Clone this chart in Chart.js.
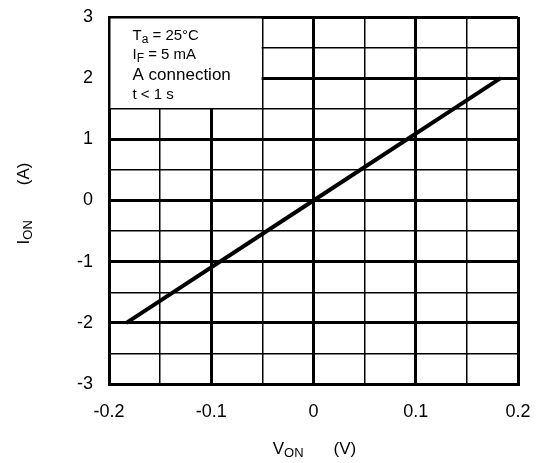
<!DOCTYPE html>
<html>
<head>
<meta charset="utf-8">
<script src="https://cdn.jsdelivr.net/npm/chart.js@4"></script>
<style>
html,body{margin:0;padding:0;background:#fff;}
#wrap{width:541px;height:463px;}
</style>
</head>
<body>
<div id="wrap"><canvas id="c" width="541" height="463"></canvas></div>
<script>
// Data
const vOn = [-0.183, 0, 0.183];          // V_ON (V)
const iOn = [-2, 0, 2];                  // I_ON (A)
const xMin = -0.2, xMax = 0.2, xStep = 0.05;
const yMin = -3, yMax = 3, yStep = 0.5;
const xTickLabels = ['-0.2', '-0.1', '0', '0.1', '0.2'];
const yTickLabels = ['-3', '-2', '-1', '0', '1', '2', '3'];
const noteBoxX = [-0.2, -0.05];
const noteBoxY = [1.5, 3];

const FONT = '"Liberation Sans", Arial, sans-serif';

function isMajor(v, unit) {
  const r = v / unit;
  return Math.abs(r - Math.round(r)) < 1e-6;
}

function drawParts(ctx, parts, x0, y0) {
  let xx = x0;
  for (const p of parts) {
    ctx.font = p.s + 'px ' + FONT;
    xx += (p.g || 0);
    ctx.fillText(p.t, xx, y0 + (p.d || 0));
    xx += ctx.measureText(p.t).width;
  }
  return xx - x0;
}
function measureParts(ctx, parts) {
  let w = 0;
  for (const p of parts) {
    ctx.font = p.s + 'px ' + FONT;
    w += (p.g || 0) + ctx.measureText(p.t).width;
  }
  return w;
}

const overlay = {
  id: 'overlay',
  beforeDatasetsDraw(chart) {
    const {ctx, scales: {x, y}} = chart;
    // white note box hiding grid lines
    const l = x.getPixelForValue(noteBoxX[0]) + 1.5;
    const r = x.getPixelForValue(noteBoxX[1]) - 0.75;
    const t = y.getPixelForValue(noteBoxY[1]) + 1.5;
    const b = y.getPixelForValue(noteBoxY[0]) - 0.75;
    ctx.save();
    ctx.fillStyle = '#fff';
    ctx.fillRect(l, t, r - l, b - t);
    ctx.fillStyle = '#000';
    ctx.textBaseline = 'alphabetic';
    ctx.textAlign = 'left';
    const tx = l + 22;
    drawParts(ctx, [{t:'T', s:15}, {t:'a', s:12, d:3}, {t:' = 25°C', s:15}], tx, t + 21);
    drawParts(ctx, [{t:'I', s:15}, {t:'F', s:12, d:3}, {t:' = 5 mA', s:15}], tx, t + 40);
    drawParts(ctx, [{t:'A connection', s:17}], tx, t + 61.5);
    drawParts(ctx, [{t:'t < 1 s', s:15}], tx, t + 80);
    ctx.restore();
  },
  afterDraw(chart) {
    const {ctx, chartArea} = chart;
    ctx.save();
    ctx.fillStyle = '#000';
    ctx.textBaseline = 'alphabetic';
    ctx.textAlign = 'left';
    const cx = (chartArea.left + chartArea.right) / 2;
    const cy = (chartArea.top + chartArea.bottom) / 2;
    // x title, centred under the plot
    const xt = [{t:'V', s:17}, {t:'ON', s:13, d:3}, {t:'(V)', s:17, g:30}];
    const wx = measureParts(ctx, xt);
    drawParts(ctx, xt, cx - wx / 2 + 1, 454);
    // y title (rotated), centred beside the plot
    const yt = [{t:'I', s:17}, {t:'ON', s:13, d:3}, {t:'(A)', s:17, g:35}];
    const wy = measureParts(ctx, yt);
    ctx.translate(29, cy);
    ctx.rotate(-Math.PI / 2);
    drawParts(ctx, yt, -wy / 2 - 3, 0);
    ctx.restore();
  }
};

new Chart(document.getElementById('c'), {
  type: 'scatter',
  data: {
    datasets: [{
      data: vOn.map((v, i) => ({x: v, y: iOn[i]})),
      showLine: true,
      borderColor: '#000',
      backgroundColor: '#000',
      borderWidth: 4,
      pointRadius: 0,
      borderCapStyle: 'butt'
    }]
  },
  options: {
    responsive: false,
    animation: false,
    devicePixelRatio: 1,
    layout: {padding: {left: 0, top: 17, right: 23, bottom: 0}},
    plugins: {legend: {display: false}, tooltip: {enabled: false}},
    scales: {
      x: {
        type: 'linear', min: xMin, max: xMax,
        afterFit(s) { s.height = 79; s.paddingLeft = 0; s.paddingRight = 0; },
        afterBuildTicks(s) {
          const t = [];
          for (let i = 0; i <= Math.round((xMax - xMin) / xStep); i++) t.push({value: +(xMin + i * xStep).toFixed(3)});
          s.ticks = t;
        },
        ticks: {
          autoSkip: false, maxRotation: 0, padding: 17,
          color: '#000', font: {family: FONT, size: 18},
          callback(v) {
            if (!isMajor(v, 0.1)) return '';
            const k = Math.round((v - xMin) / 0.1);
            return xTickLabels[k];
          }
        },
        grid: {
          color: '#000', drawTicks: false,
          lineWidth: (c) => (c.tick && isMajor(c.tick.value, 0.1)) ? 3 : 1.5
        },
        border: {display: true, width: 3, color: '#000'}
      },
      y: {
        type: 'linear', min: yMin, max: yMax,
        afterFit(s) { s.width = 109; s.paddingTop = 0; s.paddingBottom = 0; },
        afterBuildTicks(s) {
          const t = [];
          for (let i = 0; i <= Math.round((yMax - yMin) / yStep); i++) t.push({value: yMin + i * yStep});
          s.ticks = t;
        },
        ticks: {
          autoSkip: false, padding: 16,
          color: '#000', font: {family: FONT, size: 18},
          callback(v) {
            if (!isMajor(v, 1)) return '';
            return yTickLabels[Math.round(v - yMin)];
          }
        },
        grid: {
          color: '#000', drawTicks: false,
          lineWidth: (c) => (c.tick && isMajor(c.tick.value, 1)) ? 3 : 1.5
        },
        border: {display: true, width: 3, color: '#000'}
      }
    }
  },
  plugins: [overlay]
});
</script>
</body>
</html>
